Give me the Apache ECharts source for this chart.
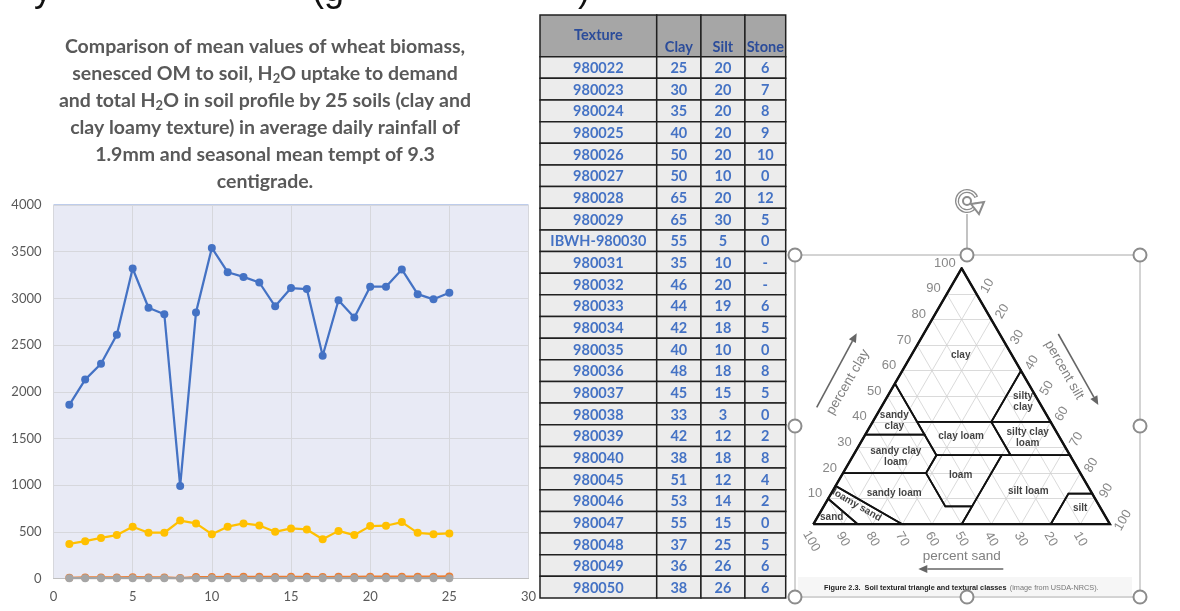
<!DOCTYPE html>
<html><head><meta charset="utf-8">
<script src="https://cdn.jsdelivr.net/npm/echarts/dist/echarts.min.js"></script>
<style>html,body{margin:0;padding:0;background:#fff;}#c{width:1180px;height:611px;}</style>
</head><body><div id="c"></div>
<script>
// ---------- line chart data ----------
const soilNo = [1,2,3,4,5,6,7,8,9,10,11,12,13,14,15,16,17,18,19,20,21,22,23,24,25];
const wheatBiomass = [1860,2130,2300,2610,3320,2900,2830,990,2850,3540,3280,3230,3170,2915,3110,3100,2385,2980,2795,3125,3125,3310,3045,2990,3060];
const senescedOM = [8,12,12,12,14,12,12,5,15,16,17,18,18,17,18,18,16,18,17,19,19,20,19,20,22];
const uptakeToDemand = [3,4,4,4,4,4,4,1,4,4,4,4,4,4,4,4,4,4,4,4,4,4,4,4,4];
const totalSoilH2O = [370,400,435,465,555,490,490,620,590,475,555,590,568,500,536,525,421,510,465,561,565,604,489,475,482];
const xTicks = [0,5,10,15,20,25,30];
const yTicks = [0,500,1000,1500,2000,2500,3000,3500,4000];
const titleLines = [
  'Comparison of mean values of wheat biomass,',
  'senesced OM to soil, H₂O uptake to demand',
  'and total H₂O in soil profile by 25 soils (clay and',
  'clay loamy texture) in average daily rainfall of',
  '1.9mm and seasonal mean tempt of 9.3',
  'centigrade.'
];

// ---------- table data ----------
const tableHeaders = ['Texture','Clay','Silt','Stone'];
const textureIds = ['980022','980023','980024','980025','980026','980027','980028','980029','IBWH-980030','980031','980032','980033','980034','980035','980036','980037','980038','980039','980040','980045','980046','980047','980048','980049','980050'];
const clayPct = [25,30,35,40,50,50,65,65,55,35,46,44,42,40,48,45,33,42,38,51,53,55,37,36,38];
const siltPct = [20,20,20,20,20,10,20,30,5,10,20,19,18,10,18,15,3,12,18,12,14,15,25,26,26];
const stonePct = ['6','7','8','9','10','0','12','5','0','-','-','6','5','0','8','5','0','2','8','4','2','0','5','6','6'];

// ---------- soil texture triangle data ([silt %, clay %]) ----------
const trianglePct = [10,20,30,40,50,60,70,80,90,100];
const textureClasses = ['sand','loamy sand','sandy loam','loam','silt loam','silt','sandy clay\nloam','clay loam','silty clay\nloam','sandy\nclay','silty\nclay','clay'];
const classPolygons = [
  [[0,0],[15,0],[0,10]],
  [[15,0],[30,0],[0,15],[0,10]],
  [[30,0],[50,0],[50,7],[41,7],[28,20],[0,20],[0,15]],
  [[50,7],[41,7],[28,20],[28,27],[50,27]],
  [[50,0],[80,0],[80,12],[88,12],[73,27],[50,27],[50,7]],
  [[80,0],[100,0],[88,12],[80,12]],
  [[0,20],[28,20],[28,27],[20,35],[0,35]],
  [[28,27],[53,27],[40,40],[15,40]],
  [[53,27],[73,27],[60,40],[40,40]],
  [[0,35],[20,35],[0,55]],
  [[40,40],[60,40],[40,60]],
  [[15,40],[40,40],[40,60],[0,100],[0,55]]
];
const classLabelAt = [[4.9,2.6],[10.9,7.5],[21.2,12.1],[40,19.3],[65.9,13.1],[86.8,6.3],[14.6,26.4],[32.7,34.2],[55.3,33.9],[7.1,40.4],[46.8,47.8],[16.6,66.2]];

// ---------- layout (not data) ----------
const COL_EDGES = [0, 0.475, 0.655, 0.834, 1];
const HEADER_H = 1.93;
const ROW_H = (27 - HEADER_H) / 25;
const FONT = 'Lato, "Open Sans", sans-serif';
const ARIAL = '"Liberation Sans", Arial, sans-serif';

function toTri(p){ return [p[0] + p[1]/2, p[1]]; }

const tableCells = [];
tableHeaders.forEach((h,c)=>tableCells.push({row:0,col:c,text:h}));
textureIds.forEach((id,i)=>{
  tableCells.push({row:i+1,col:0,text:id});
  tableCells.push({row:i+1,col:1,text:String(clayPct[i])});
  tableCells.push({row:i+1,col:2,text:String(siltPct[i])});
  tableCells.push({row:i+1,col:3,text:stonePct[i]});
});
function cellTop(r){ return r===0 ? 0 : HEADER_H + (r-1)*ROW_H; }
function cellBot(r){ return r===0 ? HEADER_H : HEADER_H + r*ROW_H; }

const gridSegs = [];
trianglePct.slice(0,9).forEach(t=>{
  gridSegs.push({coords:[toTri([0,t]), toTri([100-t,t])]});
  gridSegs.push({coords:[toTri([t,0]), toTri([t,100-t])]});
  gridSegs.push({coords:[toTri([100-t,0]), toTri([0,100-t])]});
});

function lineSeries(name, vals, color, z){
  return {type:'line', name, xAxisIndex:0, yAxisIndex:0, z,
    data: soilNo.map((n,i)=>[n, vals[i]]),
    symbol:'circle', symbolSize:8, showSymbol:true,
    lineStyle:{color, width:2.25}, itemStyle:{color}};
}

const chart = echarts.init(document.getElementById('c'));
chart.setOption({
  animation:false,
  backgroundColor:'#ffffff',
  grid:[
    {left:53.5, top:205, width:475, height:373.5, show:true, backgroundColor:'#e8eaf5', borderColor:'#7b98d6', borderWidth:1},
    {left:540, top:15, width:245.7, height:583},
    {left:813.3, top:268.3, width:296.7, height:256}
  ],
  xAxis:[
    {gridIndex:0, type:'value', min:xTicks[0], max:xTicks[xTicks.length-1], interval:5,
      axisLine:{show:true, lineStyle:{color:'#bfbfbf'}}, axisTick:{show:false},
      splitLine:{show:true, lineStyle:{color:'#d6d7dc', width:1}},
      axisLabel:{color:'#595959', fontSize:13, margin:12, fontFamily:FONT, formatter:v=>String(v)}},
    {gridIndex:1, type:'value', min:0, max:1, show:false},
    {gridIndex:2, type:'value', min:0, max:100, show:false}
  ],
  yAxis:[
    {gridIndex:0, type:'value', min:yTicks[0], max:yTicks[yTicks.length-1], interval:500,
      axisLine:{show:false}, axisTick:{show:false},
      splitLine:{show:true, lineStyle:{color:'#d6d7dc', width:1}},
      axisLabel:{color:'#595959', fontSize:13, margin:12, fontFamily:FONT, formatter:v=>String(v)}},
    {gridIndex:1, type:'value', min:0, max:27, inverse:true, show:false},
    {gridIndex:2, type:'value', min:0, max:100, show:false}
  ],
  series:[
    lineSeries('Wheat biomass', wheatBiomass, '#4472c4', 5),
    lineSeries('Senesced OM to soil', senescedOM, '#ed7d31', 6),
    lineSeries('H2O uptake to demand', uptakeToDemand, '#a5a5a5', 7),
    lineSeries('Total H2O in soil profile', totalSoilH2O, '#ffc000', 8),
    {type:'custom', xAxisIndex:1, yAxisIndex:1, silent:true,
      data: tableCells.map(c=>[(COL_EDGES[c.col]+COL_EDGES[c.col+1])/2, (cellTop(c.row)+cellBot(c.row))/2]),
      renderItem:function(params, api){
        const cell = tableCells[params.dataIndex];
        const p0 = api.coord([COL_EDGES[cell.col], cellTop(cell.row)]);
        const p1 = api.coord([COL_EDGES[cell.col+1], cellBot(cell.row)]);
        const head = cell.row===0;
        let ty = (p0[1]+p1[1])/2 + 1;
        if (head) ty = cell.col===0 ? (p0[1]+p1[1])/2 - 1 : p1[1] - 9;
        return {type:'group', children:[
          {type:'rect', shape:{x:p0[0], y:p0[1], width:p1[0]-p0[0], height:p1[1]-p0[1]},
            style:{fill: head?'#a6a6a6':'#ececec', stroke:'#202020', lineWidth:1.5}},
          {type:'text', style:{text:cell.text, x:(p0[0]+p1[0])/2, y:ty, textAlign:'center', textVerticalAlign:'middle',
            fill: head?'#2b4c9a':'#4472c4', font:'bold 14.5px '+FONT}}
        ]};
      }
    },
    {type:'lines', coordinateSystem:'cartesian2d', xAxisIndex:2, yAxisIndex:2, silent:true, z:2,
      data:gridSegs, lineStyle:{color:'#d0d0d0', width:0.8, opacity:1}},
    {type:'lines', coordinateSystem:'cartesian2d', xAxisIndex:2, yAxisIndex:2, polyline:true, silent:true, z:3,
      data:classPolygons.map(poly=>({coords: poly.concat([poly[0]]).map(toTri)})),
      lineStyle:{color:'#111', width:1.8, opacity:1}},
    {type:'lines', coordinateSystem:'cartesian2d', xAxisIndex:2, yAxisIndex:2, polyline:true, silent:true, z:4,
      data:[{coords:[[0,0],[100,0],[50,100],[0,0]]}],
      lineStyle:{color:'#111', width:2.4, opacity:1}},
    {type:'scatter', xAxisIndex:2, yAxisIndex:2, symbolSize:0, silent:true, z:5,
      data: textureClasses.map((n,i)=>({name:n, value:toTri(classLabelAt[i]),
        label: n==='loamy sand' ? {rotate:-30} : {}})),
      label:{show:true, position:'inside', formatter:'{b}', color:'#111', fontSize:10, fontWeight:'bold', fontFamily:ARIAL, lineHeight:11}}
  ]
});

// ---------- graphics (text, frame, ticks) ----------
const g = [];
// clipped heading above
[[34,'y'],[312,'(g'],[578,')']].forEach(([x,t])=>g.push({type:'text', x, y:9, style:{text:t, x:0, y:0, textVerticalAlign:'bottom', fill:'#111', font:'36px '+ARIAL}}));

// title with real subscripts, laid out via canvas text measurement
const mctx = document.createElement('canvas').getContext('2d');
const TITLE_FONT = 'bold 19.5px ' + FONT;
const SUB_FONT = 'bold 13px ' + FONT;
titleLines.forEach((line, i)=>{
  const segs = [];
  line.split('₂').forEach((part, k)=>{ if (k>0) segs.push({t:'2', sub:true}); if (part) segs.push({t:part, sub:false}); });
  let total = 0;
  segs.forEach(s=>{ mctx.font = s.sub ? SUB_FONT : TITLE_FONT; s.w = mctx.measureText(s.t).width; total += s.w; });
  let x = 265 - total/2;
  const cy = 47 + i*26.9;
  segs.forEach(s=>{
    g.push({type:'text', x, y: s.sub ? cy+5 : cy, style:{text:s.t, x:0, y:0, textAlign:'left', textVerticalAlign:'middle', fill:'#595959', font: s.sub?SUB_FONT:TITLE_FONT}});
    x += s.w;
  });
});

// picture frame & handles
g.push({type:'rect', shape:{x:798, y:577, width:334, height:19}, style:{fill:'#f6f6f6'}});
g.push({type:'rect', shape:{x:795, y:255, width:345, height:342}, style:{fill:'none', stroke:'#a8a8a8', lineWidth:1}, z:50});
g.push({type:'line', shape:{x1:967, y1:214, x2:967, y2:248}, style:{stroke:'#9a9a9a', lineWidth:1.2}, z:50});
[[795,255],[967,255],[1140,255],[795,426],[1140,426],[795,597],[967,597],[1140,597]].forEach(([x,y])=>
  g.push({type:'circle', shape:{cx:x, cy:y, r:6.5}, style:{fill:'#fff', stroke:'#8c8c8c', lineWidth:2}, z:51}));
// rotate icon
g.push({type:'arc', shape:{cx:967, cy:201, r:10, startAngle:0.2, endAngle:5.9}, style:{stroke:'#8c8c8c', lineWidth:4, fill:'none'}, z:51});
g.push({type:'arc', shape:{cx:967, cy:201, r:10, startAngle:0.3, endAngle:5.8}, style:{stroke:'#fff', lineWidth:1.4, fill:'none'}, z:52});
g.push({type:'circle', shape:{cx:967, cy:201, r:4}, style:{fill:'none', stroke:'#8c8c8c', lineWidth:2}, z:51});
g.push({type:'polygon', shape:{points:[[971,204],[984,202],[979,214]]}, style:{fill:'#fff', stroke:'#8c8c8c', lineWidth:2}, z:53});

function arrow(x1,y1,x2,y2){
  const a = Math.atan2(y2-y1, x2-x1), L=9, W=4;
  const bx = x2 - L*Math.cos(a), by = y2 - L*Math.sin(a);
  g.push({type:'line', shape:{x1, y1, x2:bx, y2:by}, style:{stroke:'#666', lineWidth:1.6}});
  g.push({type:'polygon', shape:{points:[[x2,y2],[bx - W*Math.sin(a), by + W*Math.cos(a)],[bx + W*Math.sin(a), by - W*Math.cos(a)]]}, style:{fill:'#666'}});
}
arrow(816.7,407.3,856.7,333.3);
arrow(1058.3,334,1098.3,405);
arrow(1003.3,569,918.3,569);
function rotText(t,x,y,deg,size,fill){
  g.push({type:'text', x, y, rotation:deg*Math.PI/180, style:{text:t, x:0, y:0, textAlign:'center', textVerticalAlign:'middle', fill, font:size+'px '+ARIAL}});
}
rotText('percent clay',848,382,60,13.5,'#808080');
rotText('percent silt',1064,370,-60,13.5,'#808080');
rotText('percent sand',961.7,556.7,0,13.5,'#808080');
// caption
g.push({type:'text', x:824, y:588, style:{text:'{b|Figure 2.3.  Soil textural triangle and textural classes} {n|(image from USDA-NRCS).}', x:0, y:0, textVerticalAlign:'middle',
  rich:{b:{fontSize:7.3, fontWeight:'bold', fontFamily:ARIAL, fill:'#222'}, n:{fontSize:7.3, fontFamily:ARIAL, fill:'#777'}}}});

// tick labels on triangle edges
const px = p => chart.convertToPixel({gridIndex:2}, p);
trianglePct.forEach(t=>{
  const L = px(toTri([0,t]));
  g.push({type:'text', x:L[0]-6, y:L[1]-5, style:{text:String(t), x:0, y:0, textAlign:'right', textVerticalAlign:'middle', fill:'#888', font:'13px '+ARIAL}});
  const R = px(toTri([t,100-t]));
  if (t===100) rotText(String(t), R[0]+13, R[1]-4, 60, 13, '#888');
  else rotText(String(t), R[0]+11, R[1]-8, 60, 13, '#888');
  const B = px(toTri([100-t,0]));
  if (t===100) rotText(String(t), B[0]-2, B[1]+17, -60, 13, '#888');
  else rotText(String(t), B[0], B[1]+15, -60, 13, '#888');
});
chart.setOption({graphic:{elements:g}});
</script>
</body></html>
